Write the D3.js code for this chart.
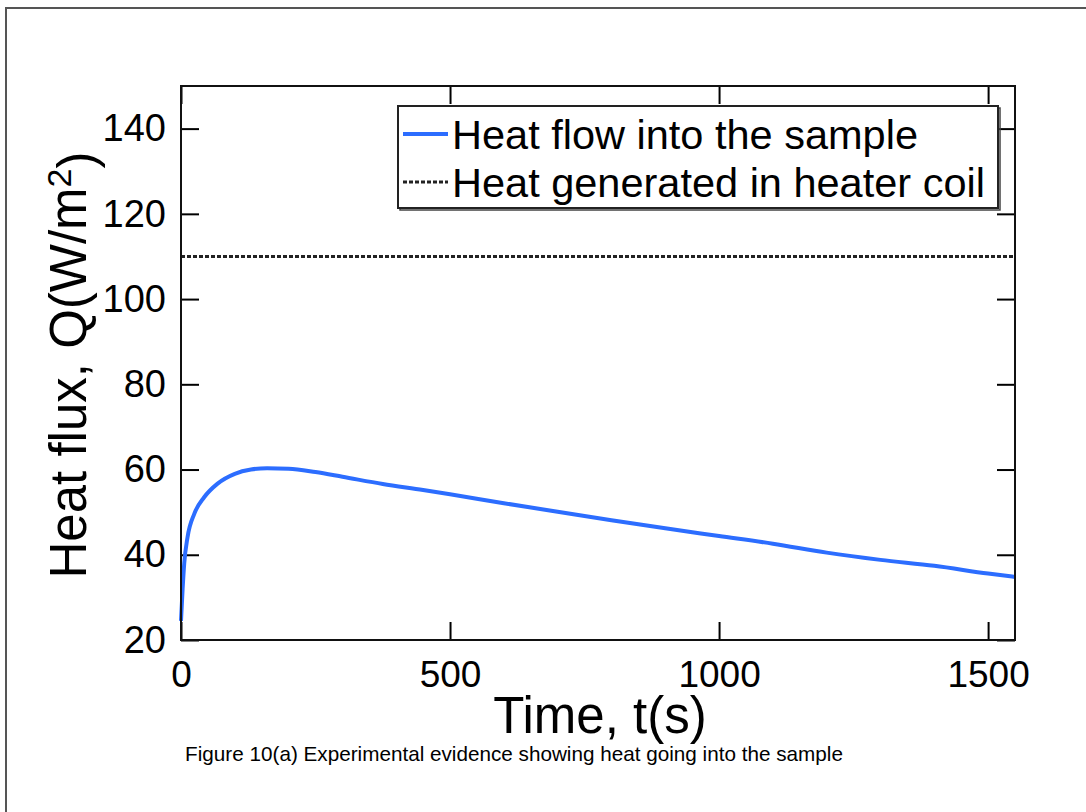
<!DOCTYPE html>
<html>
<head>
<meta charset="utf-8">
<script src="https://cdn.jsdelivr.net/npm/d3@7"></script>
<style>
  body { margin: 0; background: #fff; }
  text { font-family: "Liberation Sans", Arial, sans-serif; fill: #000; }
</style>
</head>
<body>
<script>
// ### Data ###
var timeS    = [0, 3, 6, 12, 25, 43, 68, 100, 130, 160, 200, 250, 300, 375, 450, 500, 600, 700, 800, 900, 1000, 1100, 1200, 1300, 1400, 1500, 1550];
var heatFlow = [24.5, 32, 38, 44, 49.7, 53.5, 56.7, 59, 60, 60.3, 60.2, 59.4, 58.3, 56.6, 55.2, 54.2, 52.1, 50.1, 48.1, 46.2, 44.4, 42.6, 40.5, 38.8, 37.4, 35.6, 34.8];
var genTime  = [0, 1550];
var genFlux  = [110, 110];
var xTicks   = [0, 500, 1000, 1500];
var yTicks   = [20, 40, 60, 80, 100, 120, 140];
var legendLabels = ["Heat flow into the sample", "Heat generated in heater coil"];

var W = 1086, H = 812;
var margin = {top: 86, right: 71, bottom: 172, left: 181};
var width = W - margin.left - margin.right;
var height = H - margin.top - margin.bottom;
var blue = "#2c6dff";
var tickLen = 18;

var svg = d3.select("body").append("svg")
    .attr("width", W)
    .attr("height", H);

// outer frame (only left and top visible)
svg.append("rect")
    .attr("x", 6).attr("y", 8)
    .attr("width", 1200).attr("height", 1000)
    .attr("fill", "none")
    .attr("stroke", "#555")
    .attr("stroke-width", 2);

var g = svg.append("g")
    .attr("transform", "translate(" + margin.left + "," + margin.top + ")");

var x = d3.scaleLinear().domain([0, 1550]).range([0, width]);
var y = d3.scaleLinear().domain([20, 150]).range([height, 0]);

// axes with ticks pointing inward
function styleAxis(sel){
    sel.attr("font-family", null).attr("font-size", null);
    sel.select(".domain").remove();
    sel.selectAll(".tick line").attr("stroke", "#000").attr("stroke-width", 2);
}

g.append("g")
    .attr("transform", "translate(0," + height + ")")
    .call(d3.axisBottom(x).tickValues(xTicks).tickSizeInner(-tickLen).tickPadding(21).tickFormat(d3.format("d")))
    .call(styleAxis)
    .selectAll("text")
    .style("font-size", "37px");

g.append("g")
    .call(d3.axisTop(x).tickValues(xTicks).tickSizeInner(-tickLen).tickFormat(""))
    .call(styleAxis);

g.append("g")
    .call(d3.axisLeft(y).tickValues(yTicks).tickSizeInner(-tickLen).tickPadding(15))
    .call(styleAxis)
    .selectAll("text")
    .style("font-size", "38px");

g.append("g")
    .attr("transform", "translate(" + width + ",0)")
    .call(d3.axisRight(y).tickValues(yTicks).tickSizeInner(-tickLen).tickFormat(""))
    .call(styleAxis);

// lines
var flowLine = d3.line()
    .x(function(d, i){ return x(timeS[i]); })
    .y(function(d){ return y(d); })
    .curve(d3.curveMonotoneX);

var genLine = d3.line()
    .x(function(d, i){ return x(genTime[i]); })
    .y(function(d){ return y(d); });

g.append("path")
    .datum(genFlux)
    .attr("d", genLine)
    .attr("fill", "none")
    .attr("stroke", "#222")
    .attr("stroke-width", 3)
    .attr("stroke-dasharray", "4,2");

g.append("path")
    .datum(heatFlow)
    .attr("d", flowLine)
    .attr("fill", "none")
    .attr("stroke", blue)
    .attr("stroke-width", 4)
    .attr("stroke-linejoin", "round");

// plot frame
g.append("rect")
    .attr("width", width).attr("height", height)
    .attr("fill", "none")
    .attr("stroke", "#111")
    .attr("stroke-width", 2);

// legend
var lg = svg.append("g").attr("transform", "translate(398,106)");
lg.append("rect")
    .attr("x", 2).attr("y", 2)
    .attr("width", 600).attr("height", 102)
    .attr("fill", "none").attr("stroke", "#444").attr("stroke-width", 1.5);
lg.append("rect")
    .attr("width", 600).attr("height", 102)
    .attr("fill", "#fff").attr("stroke", "#222").attr("stroke-width", 2);

var rows = lg.selectAll(".row")
    .data(legendLabels)
  .enter().append("g")
    .attr("transform", function(d, i){ return "translate(0," + (28 + i * 48) + ")"; });

rows.append("line")
    .attr("x1", 5).attr("x2", 50)
    .attr("stroke", function(d, i){ return i === 0 ? blue : "#222"; })
    .attr("stroke-width", function(d, i){ return i === 0 ? 4 : 3; })
    .attr("stroke-dasharray", function(d, i){ return i === 0 ? null : "4,2"; });

rows.append("text")
    .attr("x", 54)
    .attr("dy", "0.36em")
    .style("font-size", "41.5px")
    .text(function(d){ return d; });

// axis titles
svg.append("text")
    .attr("x", 600)
    .attr("y", 733)
    .attr("text-anchor", "middle")
    .style("font-size", "51px")
    .text("Time, t(s)");

var yl = svg.append("text")
    .attr("transform", "translate(86,365) rotate(-90)")
    .attr("text-anchor", "middle")
    .style("font-size", "51px");
yl.append("tspan").text("Heat flux,  Q(W/m");
yl.append("tspan").attr("dy", "-0.45em").style("font-size", "34px").text("2");
yl.append("tspan").attr("dy", "0.45em").text(")");

// caption
svg.append("text")
    .attr("x", 514)
    .attr("y", 761)
    .attr("text-anchor", "middle")
    .style("font-size", "20.7px")
    .text("Figure 10(a) Experimental evidence showing heat going into the sample");
</script>
</body>
</html>
